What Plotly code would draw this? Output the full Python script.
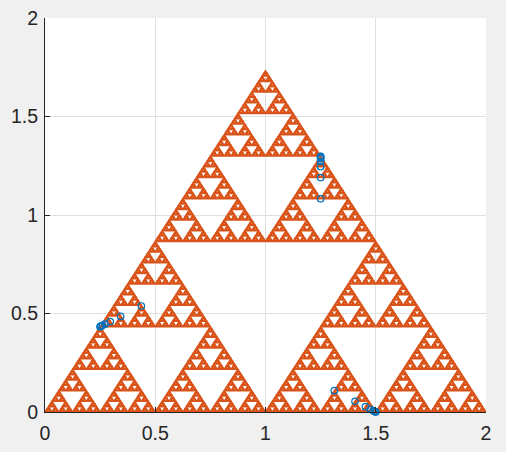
import plotly.graph_objects as go

# corners of the outer triangle and how deep the subdivision goes
corner_x = [0, 2, 1]
corner_y = [0, 0, 1.7321]
depth = 7

# first points of the three highlighted runs
run_x = [0.437, 0.343, 0.296, 0.272, 0.261, 0.255, 0.252, 0.251, 0.250,
         1.250, 1.250, 1.250, 1.250, 1.250, 1.250, 1.250, 1.250,
         1.312, 1.406, 1.453, 1.476, 1.488, 1.494, 1.497, 1.499, 1.500]
run_y = [0.538, 0.485, 0.459, 0.446, 0.440, 0.436, 0.435, 0.434, 0.433,
         1.082, 1.190, 1.245, 1.272, 1.286, 1.292, 1.296, 1.298,
         0.108, 0.054, 0.027, 0.014, 0.007, 0.003, 0.002, 0.001, 0.000]


def keep(tri, level, xs, ys):
    # tri: three (x, y) corners; only the three outer sub-triangles survive
    if level == 0:
        for px, py in tri + [tri[0]]:
            xs.append(px)
            ys.append(py)
        xs.append(None)
        ys.append(None)
        return
    a, b, c = tri
    ab = ((a[0] + b[0]) / 2, (a[1] + b[1]) / 2)
    bc = ((b[0] + c[0]) / 2, (b[1] + c[1]) / 2)
    ca = ((c[0] + a[0]) / 2, (c[1] + a[1]) / 2)
    keep([a, ab, ca], level - 1, xs, ys)
    keep([ab, b, bc], level - 1, xs, ys)
    keep([ca, bc, c], level - 1, xs, ys)


tx, ty = [], []
keep(list(zip(corner_x, corner_y)), depth, tx, ty)

fig = go.Figure()
fig.add_scatter(x=tx, y=ty, mode='lines', fill='toself', fillcolor='#D95319',
                line=dict(color='#D95319', width=1.5), hoverinfo='skip',
                showlegend=False, cliponaxis=False)
fig.add_scatter(x=run_x, y=run_y, mode='markers', showlegend=False, cliponaxis=False,
                marker=dict(symbol='circle-open', size=6.5, color='#0072BD',
                            line=dict(width=1.2, color='#0072BD')))

axis = dict(range=[0, 2], tickvals=[0, 0.5, 1, 1.5, 2], showgrid=True, gridcolor='#dfdfdf',
            gridwidth=1, zeroline=False, showline=True, linecolor='#262626', linewidth=1,
            ticks='inside', ticklen=5, tickcolor='#262626', mirror=False, automargin=False,
            tickfont=dict(family='Liberation Sans, Arial', size=19.5, color='#262626'))

fig.update_layout(width=506, height=452, paper_bgcolor='#f0f0f0', plot_bgcolor='white',
                  margin=dict(l=45, r=20, t=18, b=40),
                  xaxis=axis, yaxis=axis)
fig.update_xaxes(ticklabelstandoff=4)
fig.update_yaxes(ticklabelstandoff=2)
# the page has a default 8px body margin; drop it so the figure fills the window
fig.write_html("out.html", config={'displayModeBar': False},
               post_script="document.body.style.margin='0';document.body.style.background='#f0f0f0';")
